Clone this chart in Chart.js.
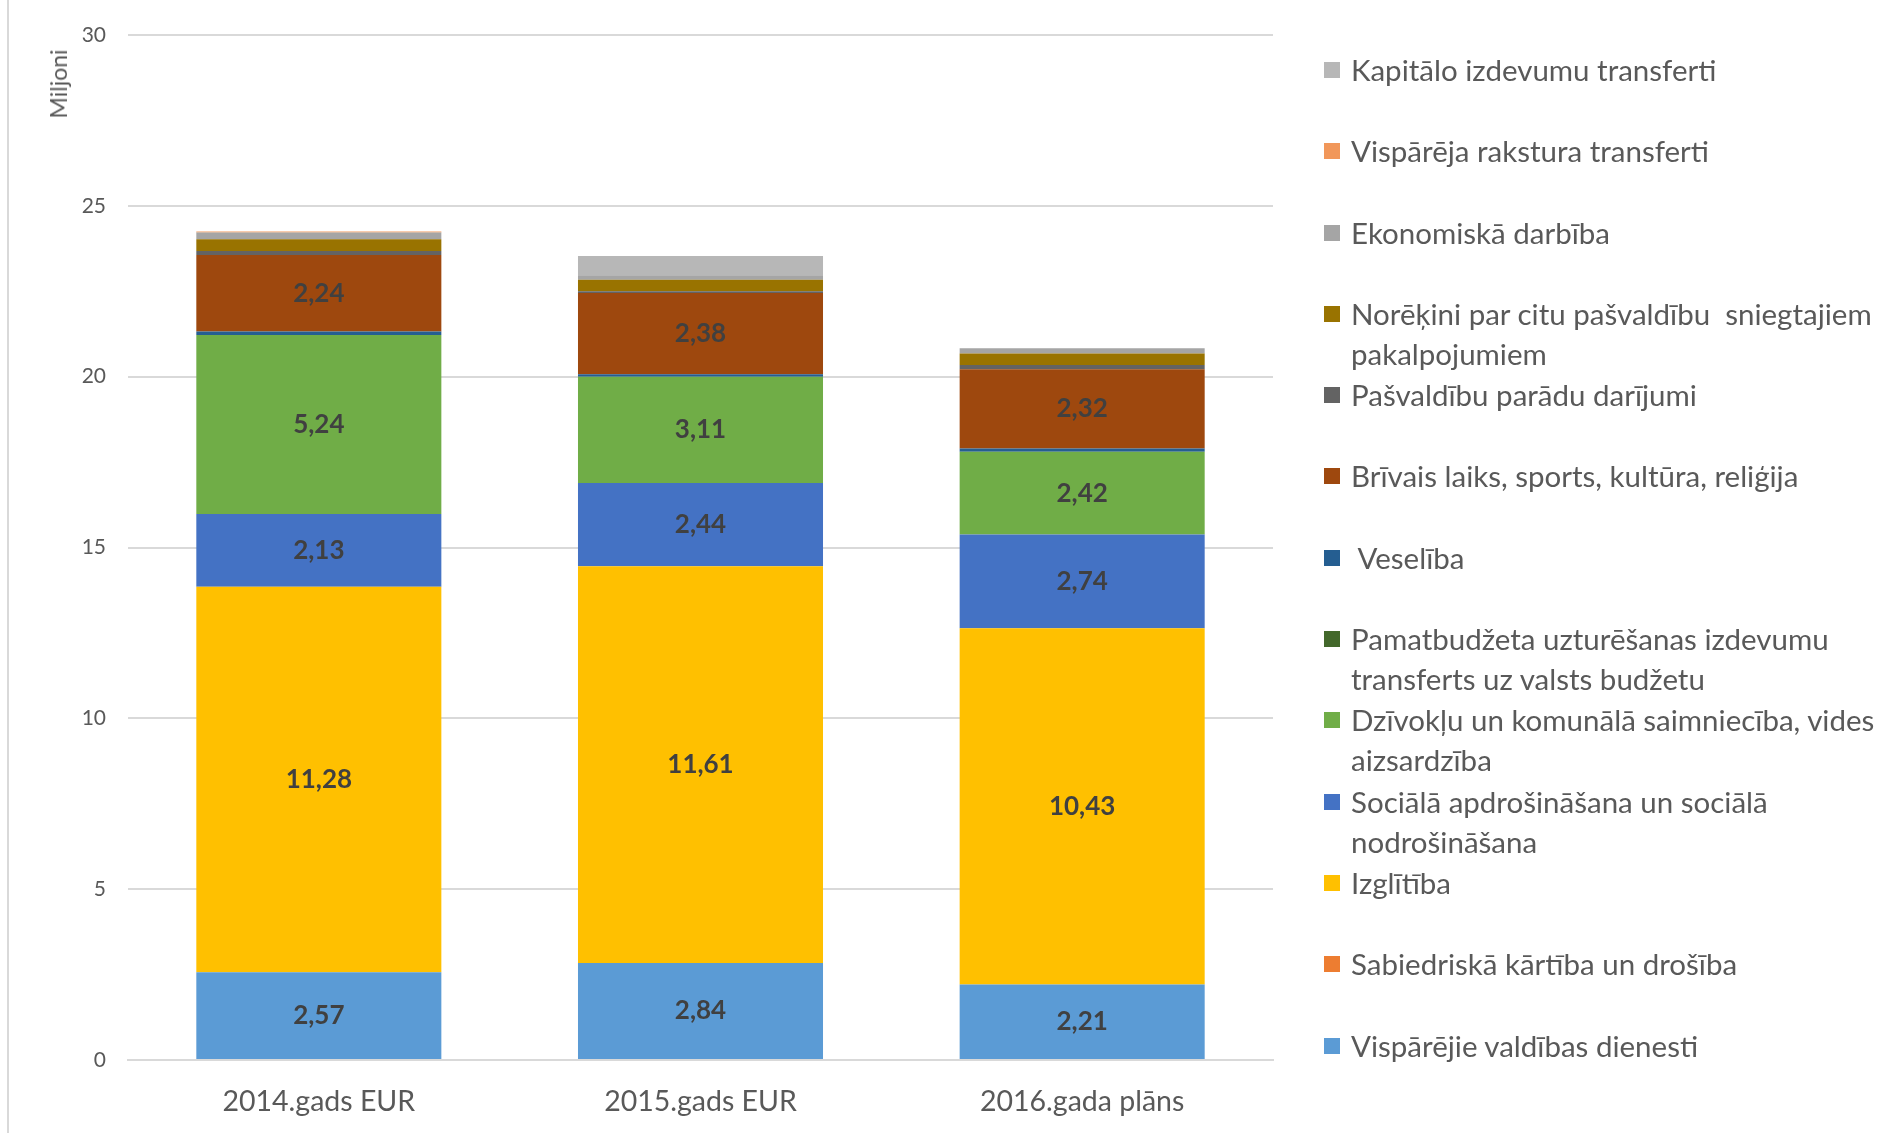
<!DOCTYPE html>
<html lang="lv">
<head>
  <meta charset="UTF-8" />
  <title>Izdevumi pa funkcijām</title>
  <script src="https://cdn.jsdelivr.net/npm/chart.js"></script>
  <style>
    html, body { margin: 0; padding: 0; background: #fff; overflow: hidden; }
    .wrap { position: relative; width: 1883px; height: 1133px; font-family: Lato, "Open Sans", sans-serif; }
    .frame { position: absolute; left: 7px; top: 0; width: 2px; height: 1133px; background: #d9d9d9; }
    canvas { position: absolute; left: 0; top: 0; }
    .ytitle { position: absolute; left: 58px; top: 84px; transform: translate(-50%, -50%) rotate(-90deg);
      font-size: 23px; color: #595959; white-space: nowrap; }
    .legend { position: absolute; left: 1324px; top: 50px; }
    .legend .item { position: relative; height: 81.3px; }
    .legend .box { position: absolute; left: 0; top: 12px; width: 16px; height: 16px; }
    .legend .txt { position: absolute; left: 27px; top: 0; line-height: 40px; font-size: 29.5px;
      color: #595959; white-space: pre; }
  </style>
</head>
<body>
  <div class="wrap">
    <div class="frame"></div>
    <canvas id="grafiks" width="1883" height="1133"></canvas>
    <div class="ytitle">Miljoni</div>
    <div class="legend" id="legenda"></div>
  </div>

  <script>
    // kategorijas (gadi)
    const kategorijas = ['2014.gads EUR', '2015.gads EUR', '2016.gada plāns'];

    // vērtības miljonos EUR, no apakšas uz augšu
    const visparejieDienesti = [2.57, 2.84, 2.21];
    const sabiedriskaKartiba = [0, 0, 0];
    const izglitiba = [11.28, 11.61, 10.43];
    const socialaApdrosinasana = [2.13, 2.44, 2.74];
    const dzivokli = [5.24, 3.11, 2.42];
    const pamatbudzetaTransferts = [0, 0, 0];
    const veseliba = [0.10, 0.07, 0.10];
    const brivaisLaiks = [2.24, 2.38, 2.32];
    const paraduDarijumi = [0.12, 0.05, 0.12];
    const norekini = [0.34, 0.34, 0.34];
    const ekonomiska = [0.20, 0.13, 0.15];
    const visparejaTransferti = [0.03, 0, 0];
    const kapitaloTransferti = [0, 0.56, 0];

    const yTicks = [0, 5, 10, 15, 20, 25, 30];

    // nosaukumi (\n = rindas pārnesums leģendā)
    const nosaukumi = [
      'Vispārējie valdības dienesti',
      'Sabiedriskā kārtība un drošība',
      'Izglītība',
      'Sociālā apdrošināšana un sociālā\nnodrošināšana',
      'Dzīvokļu un komunālā saimniecība, vides\naizsardzība',
      'Pamatbudžeta uzturēšanas izdevumu\ntransferts uz valsts budžetu',
      ' Veselība',
      'Brīvais laiks, sports, kultūra, reliģija',
      'Pašvaldību parādu darījumi',
      'Norēķini par citu pašvaldību  sniegtajiem\npakalpojumiem',
      'Ekonomiskā darbība',
      'Vispārēja rakstura transferti',
      'Kapitālo izdevumu transferti'
    ];
    const vertibas = [visparejieDienesti, sabiedriskaKartiba, izglitiba, socialaApdrosinasana, dzivokli,
      pamatbudzetaTransferts, veseliba, brivaisLaiks, paraduDarijumi, norekini, ekonomiska,
      visparejaTransferti, kapitaloTransferti];
    const krasas = ['#5b9bd5', '#ed7d31', '#ffc000', '#4472c4', '#70ad47', '#43682b', '#255e91',
      '#9e480e', '#636363', '#997300', '#a5a5a5', '#f1975a', '#b7b7b7'];

    const datasets = nosaukumi.map((n, i) => ({
      label: n.replace('\n', ' '),
      data: vertibas[i],
      backgroundColor: krasas[i],
      borderWidth: 0,
      categoryPercentage: 1,
      barPercentage: 0.642
    }));

    // vērtību uzraksti lielajiem segmentiem
    const uzraksti = {
      id: 'uzraksti',
      afterDatasetsDraw(chart) {
        const ctx = chart.ctx;
        ctx.save();
        ctx.font = 'bold 26px Lato, "Open Sans", sans-serif';
        ctx.fillStyle = '#404040';
        ctx.textAlign = 'center';
        ctx.textBaseline = 'middle';
        chart.data.datasets.forEach((ds, i) => {
          const meta = chart.getDatasetMeta(i);
          meta.data.forEach((bar, j) => {
            const v = ds.data[j];
            if (v < 1) return;
            const p = bar.getProps(['x', 'y', 'base'], true);
            ctx.fillText(v.toFixed(2).replace('.', ','), p.x, (p.y + p.base) / 2);
          });
        });
        ctx.restore();
      }
    };

    const grafiks = new Chart(document.getElementById('grafiks'), {
      type: 'bar',
      data: { labels: kategorijas, datasets: datasets },
      options: {
        responsive: false,
        animation: false,
        layout: { padding: { top: 35, right: 610, bottom: 0, left: 0 } },
        plugins: { legend: { display: false }, tooltip: { enabled: false } },
        scales: {
          x: {
            stacked: true,
            grid: { display: false },
            border: { color: '#d9d9d9', width: 2 },
            ticks: { color: '#595959', font: { family: 'Lato', size: 28.5 }, padding: 17 },
            afterFit(s) { s.height = 73; }
          },
          y: {
            stacked: true,
            min: 0,
            max: 30,
            afterBuildTicks(s) { s.ticks = yTicks.map(v => ({ value: v })); },
            grid: { color: '#d9d9d9', lineWidth: 2, drawTicks: false },
            border: { display: false },
            ticks: { color: '#595959', font: { family: 'Lato', size: 21 }, padding: 22 },
            afterFit(s) { s.width = 128; }
          }
        }
      },
      plugins: [uzraksti]
    });

    // leģenda: augšējais segments augšā
    const legenda = document.getElementById('legenda');
    for (let i = nosaukumi.length - 1; i >= 0; i--) {
      const item = document.createElement('div');
      item.className = 'item';
      item.innerHTML = '<div class="box" style="background:' + krasas[i] + '"></div>' +
        '<div class="txt"></div>';
      item.querySelector('.txt').textContent = nosaukumi[i];
      legenda.appendChild(item);
    }
  </script>
</body>
</html>
